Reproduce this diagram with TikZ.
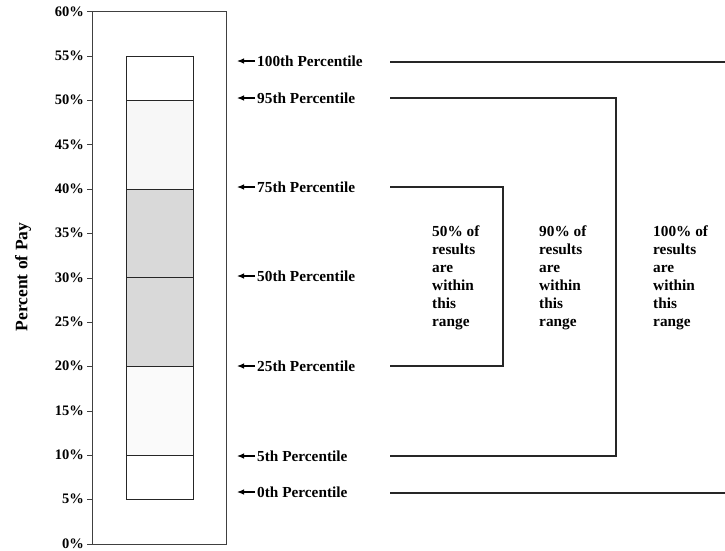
\documentclass[tikz,border=0pt]{standalone}
\usepackage{fontspec}
\setmainfont{Liberation Serif}
\usetikzlibrary{arrows.meta}
\begin{document}
\begin{tikzpicture}[x=1pt,y=-1pt,
  ticklab/.style={font=\bfseries\fontsize{14.5}{16}\selectfont, anchor=east, inner sep=0},
  pct/.style={font=\bfseries\fontsize{15.3}{18}\selectfont, anchor=west, inner sep=0},
  rng/.style={font=\bfseries\fontsize{15.3}{18}\selectfont, anchor=north west, inner sep=0, align=left},
  ln/.style={line width=1.1pt, draw=black!85},
  barline/.style={line width=0.9pt, draw=black!85},
  frame/.style={line width=1pt, draw=black!75},
  pointer/.style={-{Latex[length=7pt,width=5.5pt]}, line width=1.1pt},
  tickmark/.style={line width=0.8pt, draw=black!75}
]
\useasboundingbox[fill=white] (0,0) rectangle (725,550);
% axis frame
\draw[frame] (92,11.8) rectangle (226,544);
% ticks and labels
\foreach \p/\yy in {60/11.8,55/56.15,50/100.5,45/144.85,40/189.2,35/233.55,30/277.9,25/322.25,20/366.6,15/410.95,10/455.3,5/499.65,0/544}{
  \draw[tickmark] (87,\yy) -- (92,\yy);
  \node[ticklab] (tk\p) at (84,\yy-0.5) {\p\%};
}
% axis title
\node[font=\bfseries\fontsize{17.5}{20}\selectfont, rotate=90] (ytitle) at (23,277) {Percent of Pay};
% bar fills
\fill[black!2] (126,455.3) rectangle (193,366.6);
\fill[black!15] (126,366.6) rectangle (193,189.2);
\fill[black!3] (126,189.2) rectangle (193,100.5);
\draw[barline] (126,499.65) rectangle (193,56.15);
\foreach \yy in {455.3,366.6,277.9,189.2,100.5}{
  \draw[barline] (126,\yy) -- (193,\yy);
}
% percentile labels
\node[pct] (l100) at (257,61) {100th Percentile};
\node[pct] (l95) at (257,98) {95th Percentile};
\node[pct] (l75) at (257,187) {75th Percentile};
\node[pct] (l50) at (257,276) {50th Percentile};
\node[pct] (l25) at (257,366) {25th Percentile};
\node[pct] (l5) at (257,456) {5th Percentile};
\node[pct] (l0) at (257,492) {0th Percentile};
\foreach \n/\yy in {100/61,95/98,75/187,50/276,25/366,5/456,0/492}{
  \coordinate (t\n) at (237,\yy);
  \draw[pointer] ([xshift=-2pt]l\n.west) -- (t\n);
}
% bracket coordinates
\coordinate (s100) at (390,62);
\coordinate (e100) at (725,62);
\coordinate (s0) at (390,493);
\coordinate (e0) at (725,493);
\coordinate (s95) at (390,98);
\coordinate (s5) at (390,456);
\coordinate (v90) at (616,277);
\coordinate (s75) at (390,187);
\coordinate (s25) at (390,366);
\coordinate (v50) at (503,277);
\draw[ln] (s100) -- (e100);
\draw[ln] (s0) -- (e0);
\draw[ln] (s95) -| (v90) |- (s5);
\draw[ln] (s75) -| (v50) |- (s25);
% range texts
\node[rng] (r50) at (432,226) {50\% of\\results\\are\\within\\this\\range};
\node[rng] (r90) at (539,226) {90\% of\\results\\are\\within\\this\\range};
\node[rng] (r100) at (653,226) {100\% of\\results\\are\\within\\this\\range};
\end{tikzpicture}
\end{document}
